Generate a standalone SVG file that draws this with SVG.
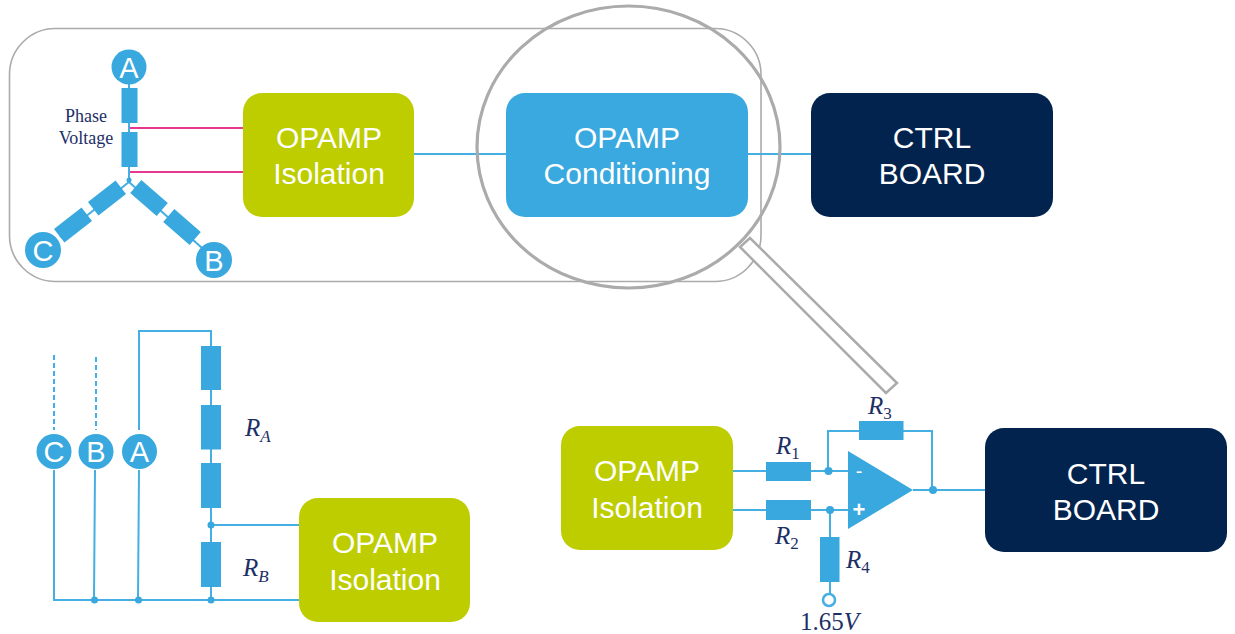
<svg xmlns="http://www.w3.org/2000/svg" width="1235" height="634" viewBox="0 0 1235 634">
<style>
.w{fill:none;stroke:#45aee2;stroke-width:2}
.p{fill:none;stroke:#e6388f;stroke-width:2}
.r{fill:#38a8de}
.d{fill:#38a8de}
.bt{font-family:"Liberation Sans",Arial,sans-serif;font-size:30px;fill:#fff;text-anchor:middle}
.ct{font-family:"Liberation Sans",Arial,sans-serif;font-size:29px;fill:#fff;text-anchor:middle}
.m{font-family:"Liberation Serif","DejaVu Serif",serif;font-style:italic;font-size:25px;fill:#1d2f66}
.s{font-size:17px}
.n{font-style:normal}
.t{font-family:"Liberation Serif","DejaVu Serif",serif;font-size:18px;fill:#1d2f66;text-anchor:middle}
</style>
<rect width="1235" height="634" fill="#fff"/>
<rect id="frame" x="9.5" y="28.5" width="751.500" height="253" rx="46" fill="none" stroke="#ababab" stroke-width="1.600"/>
<g id="connectors">
<path class="w" d="M129 84V180M129 182L60 237M129 182L202 248"/>
<path class="p" d="M130 128H243M130 172H243"/>
<path class="w" d="M414 154H506M748 154H811"/>
<path class="w" stroke-dasharray="5 3" d="M54 355V430M96 357V430"/>
<path class="w" d="M54 470V600H300M95 470L94 600M139 430V331H211V587M139 470L138 600M211 525H300M211 587V600"/>
<path class="w" d="M733 471H848M733 510H848M828 471V431H932V490M913 490H985M830 510V595"/>
</g>
<g id="phase-star">
<rect class="r" x="121.500" y="88" width="16" height="35"/>
<rect class="r" x="121.500" y="132" width="16" height="35"/>
<rect class="r" x="-17.500" y="-8.500" width="35" height="17" transform="translate(107 198) rotate(-38)"/>
<rect class="r" x="-17.500" y="-8.500" width="35" height="17" transform="translate(73 225) rotate(-38)"/>
<rect class="r" x="-17.500" y="-8.500" width="35" height="17" transform="translate(149 198) rotate(41)"/>
<rect class="r" x="-17.500" y="-8.500" width="35" height="17" transform="translate(182 227) rotate(41)"/>
<circle class="d" cx="129" cy="180" r="2.500"/>
<text class="t"><tspan x="86" y="122">Phase</tspan><tspan x="86" y="144">Voltage</tspan></text>
</g>
<g id="node-a-top"><circle class="d" cx="129" cy="67" r="17.500"/><text class="ct" x="129" y="78">A</text></g>
<g id="node-c-top"><circle class="d" cx="43" cy="250" r="18"/><text class="ct" x="43" y="261">C</text></g>
<g id="node-b-top"><circle class="d" cx="214" cy="260" r="18"/><text class="ct" x="214" y="271">B</text></g>
<g id="isolation-top"><rect x="243" y="93" width="171" height="124" rx="19" fill="#bdcd00"/><text class="bt"><tspan x="329" y="148">OPAMP</tspan><tspan x="329" y="184">Isolation</tspan></text></g>
<g id="conditioning"><rect x="506" y="93" width="242" height="124" rx="19" fill="#3aa9df"/><text class="bt"><tspan x="627" y="148">OPAMP</tspan><tspan x="627" y="184">Conditioning</tspan></text></g>
<g id="ctrl-top"><rect x="811" y="93" width="242" height="124" rx="19" fill="#03234f"/><text class="bt"><tspan x="932" y="148">CTRL</tspan><tspan x="932" y="184">BOARD</tspan></text></g>
<g id="magnifier">
<ellipse cx="628.500" cy="147" rx="151.500" ry="141" fill="none" stroke="#ababab" stroke-width="3.200"/>
<path d="M750 238L740 247L886 393L897 383Z" fill="#fff" stroke="#ababab" stroke-width="2.500"/>
</g>
<g id="divider-left">
<rect class="r" x="201" y="346" width="20" height="44"/>
<rect class="r" x="201" y="405" width="20" height="44.500"/>
<rect class="r" x="201" y="463" width="20" height="45"/>
<rect class="r" x="201" y="542" width="20" height="45"/>
<circle class="d" cx="211" cy="525" r="3.500"/><circle class="d" cx="94.500" cy="600" r="3.500"/><circle class="d" cx="138.500" cy="600" r="3.500"/><circle class="d" cx="211" cy="600" r="3.500"/>
<text class="m" x="245" y="436">R<tspan class="s" dy="6">A</tspan></text>
<text class="m" x="243" y="576">R<tspan class="s" dy="6">B</tspan></text>
</g>
<g id="node-c-bot"><circle class="d" cx="54" cy="451.500" r="17.500"/><text class="ct" x="54" y="462">C</text></g>
<g id="node-b-bot"><circle class="d" cx="96" cy="451.500" r="17.500"/><text class="ct" x="96" y="462">B</text></g>
<g id="node-a-bot"><circle class="d" cx="139.500" cy="451.500" r="17.500"/><text class="ct" x="139.500" y="462">A</text></g>
<g id="isolation-left"><rect x="299" y="498" width="171" height="124" rx="19" fill="#bdcd00"/><text class="bt"><tspan x="385" y="553">OPAMP</tspan><tspan x="385" y="590">Isolation</tspan></text></g>
<g id="isolation-right"><rect x="561" y="426" width="172" height="124" rx="19" fill="#bdcd00"/><text class="bt"><tspan x="647" y="481">OPAMP</tspan><tspan x="647" y="518">Isolation</tspan></text></g>
<g id="ctrl-bottom"><rect x="985" y="428" width="242" height="124" rx="19" fill="#03234f"/><text class="bt"><tspan x="1106" y="484">CTRL</tspan><tspan x="1106" y="520">BOARD</tspan></text></g>
<g id="amplifier">
<rect class="r" x="766" y="462" width="45" height="19"/>
<rect class="r" x="766" y="500" width="45" height="20"/>
<rect class="r" x="859" y="421" width="44.500" height="19"/>
<rect class="r" x="820" y="537" width="19.500" height="45"/>
<path class="d" d="M848 451L913 490L848 529Z"/>
<circle class="d" cx="828.500" cy="471" r="4"/><circle class="d" cx="830" cy="510" r="4"/><circle class="d" cx="933" cy="490" r="4"/>
<circle cx="829" cy="600" r="6" fill="#fff" stroke="#45aee2" stroke-width="2.500"/>
<text x="859" y="478" font-family="Liberation Sans,sans-serif" font-size="20" fill="#fff" text-anchor="middle">-</text>
<text x="859" y="517" font-family="Liberation Sans,sans-serif" font-size="22" font-weight="bold" fill="#fff" text-anchor="middle">+</text>
<text class="m" x="776" y="454">R<tspan class="s n" dy="5">1</tspan></text>
<text class="m" x="775" y="544">R<tspan class="s n" dy="5">2</tspan></text>
<text class="m" x="868" y="414">R<tspan class="s n" dy="5">3</tspan></text>
<text class="m" x="846" y="568">R<tspan class="s n" dy="5">4</tspan></text>
<text class="m" x="800" y="630"><tspan class="n">1.65</tspan>V</text>
</g>
</svg>
